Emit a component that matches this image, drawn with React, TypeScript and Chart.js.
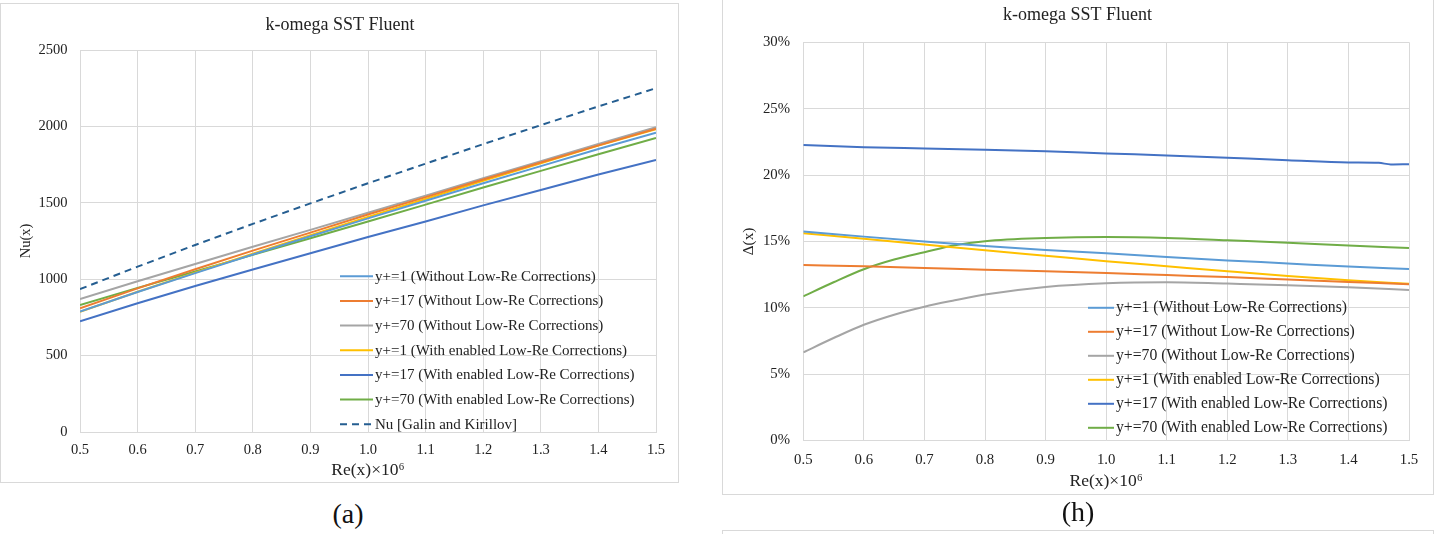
import React, { useEffect, useRef } from "react";
import { Chart, registerables } from "chart.js";

Chart.register(...registerables);

// ---------- data ----------
const RE = [0.5, 0.6, 0.7, 0.8, 0.9, 1.0, 1.1, 1.2, 1.3, 1.4, 1.5];
const RE_FINE = [0.5, 0.55, 0.6, 0.65, 0.7, 0.75, 0.8, 0.9, 1.0, 1.1, 1.2, 1.3, 1.4, 1.5];
const RE_KINK = [0.5, 0.6, 0.7, 0.8, 0.9, 1.0, 1.1, 1.2, 1.3, 1.4, 1.45, 1.47, 1.5];

const LABELS = [
  "y+=1 (Without Low-Re Corrections)",
  "y+=17 (Without Low-Re Corrections)",
  "y+=70 (Without Low-Re Corrections)",
  "y+=1 (With enabled Low-Re Corrections)",
  "y+=17 (With enabled Low-Re Corrections)",
  "y+=70 (With enabled Low-Re Corrections)",
  "Nu [Galin and Kirillov]",
];

// chart (a): Nu(x)
const NU_Y1_WO = [788, 916, 1040, 1162, 1281, 1398, 1513, 1628, 1740, 1852, 1959];
const NU_Y17_WO = [810, 940, 1065, 1187, 1305, 1423, 1537, 1652, 1764, 1876, 1985];
const NU_Y70_WO = [870, 987, 1100, 1212, 1323, 1435, 1547, 1661, 1773, 1885, 1995];
const NU_Y1_W = [786, 918, 1043, 1167, 1288, 1408, 1525, 1644, 1759, 1874, 1982];
const NU_Y17_W = [724, 843, 955, 1064, 1170, 1276, 1378, 1483, 1584, 1685, 1781];
const NU_Y70_W = [831, 943, 1050, 1159, 1268, 1378, 1488, 1600, 1709, 1818, 1924];
const NU_GALIN = [935, 1082, 1224, 1362, 1496, 1628, 1756, 1884, 2008, 2131, 2250];

// chart (h): Δ(x) in %
const D_Y1_WO = [15.74, 15.36, 15.0, 14.65, 14.36, 14.1, 13.82, 13.57, 13.34, 13.1, 12.93];
const D_Y17_WO = [13.22, 13.12, 13.0, 12.86, 12.75, 12.62, 12.46, 12.31, 12.13, 11.95, 11.77];
const D_Y70_WO = [6.64, 7.72, 8.72, 9.48, 10.08, 10.56, 11.0, 11.57, 11.85, 11.93, 11.82, 11.7, 11.54, 11.34];
const D_Y1_W = [15.62, 15.2, 14.77, 14.33, 13.92, 13.51, 13.13, 12.75, 12.39, 12.08, 11.8];
const D_Y17_W = [22.27, 22.1, 22.0, 21.9, 21.8, 21.63, 21.48, 21.3, 21.12, 20.95, 20.92, 20.8, 20.82];
const D_Y70_W = [10.86, 11.92, 12.9, 13.63, 14.18, 14.71, 15.02, 15.25, 15.33, 15.26, 15.08, 14.9, 14.69, 14.5];

const X_TICKS_STEP = 0.1;
const NU_MAX = 2500;
const NU_STEP = 500;
const D_MAX = 30;
const D_STEP = 5;

const COLORS = ["#5B9BD5", "#ED7D31", "#A5A5A5", "#FFC000", "#4472C4", "#70AD47", "#255E91"];

const FONT = "'Liberation Serif', 'Times New Roman', serif";
const TEXT = "#222222";
const GRID = "#d9d9d9";

const pts = (xs: number[], ys: number[]) => xs.map((x, i) => ({ x, y: ys[i] }));

// custom in-plot legend
const insideLegend = {
  id: "insideLegend",
  afterDraw(chart: any, _args: any, opts: any) {
    if (!opts || !opts.display) return;
    const { ctx, chartArea } = chart;
    ctx.save();
    ctx.font = `${opts.fontSize}px ${FONT}`;
    ctx.textBaseline = "middle";
    ctx.textAlign = "left";
    chart.data.datasets.forEach((ds: any, i: number) => {
      const y = chartArea.top + opts.dy + i * opts.step;
      const x0 = chartArea.left + opts.dx;
      ctx.strokeStyle = ds.borderColor;
      ctx.lineWidth = ds.borderWidth;
      ctx.setLineDash(ds.borderDash || []);
      ctx.beginPath();
      ctx.moveTo(x0, y);
      ctx.lineTo(x0 + opts.len, y);
      ctx.stroke();
      ctx.setLineDash([]);
      ctx.fillStyle = TEXT;
      ctx.fillText(ds.label, x0 + opts.len + opts.gap, y + 0.5);
    });
    ctx.restore();
  },
};

type Cfg = {
  datasets: any[];
  yMax: number;
  yStep: number;
  yFmt: (v: number) => string;
  yTitle: string;
  yTitleSize: number;
  yTitlePad: number;
  yWidth: number;
  yTickPad: number;
  xHeight: number;
  xTickPad: number;
  xTitlePad: number;
  padLeft: number;
  padRight: number;
  titlePadTop: number;
  titlePadBottom: number;
  tickSize: number;
  legend: any;
};

function LineChart({ width, height, cfg }: { width: number; height: number; cfg: Cfg }) {
  const ref = useRef<HTMLCanvasElement>(null);
  useEffect(() => {
    if (!ref.current) return;
    const chart = new Chart(ref.current, {
      type: "line",
      data: { datasets: cfg.datasets },
      options: {
        responsive: false,
        animation: false,
        devicePixelRatio: 1,
        layout: { padding: { left: cfg.padLeft, right: cfg.padRight, top: 0, bottom: 0 } },
        elements: { point: { radius: 0 } },
        plugins: {
          legend: { display: false },
          tooltip: { enabled: false },
          title: {
            display: true,
            text: "k-omega SST Fluent",
            color: TEXT,
            font: { family: FONT, size: 18, weight: "normal" },
            padding: { top: cfg.titlePadTop, bottom: cfg.titlePadBottom },
          },
          insideLegend: cfg.legend,
        } as any,
        scales: {
          x: {
            type: "linear",
            min: 0.5,
            max: 1.5,
            afterFit: (s: any) => {
              s.height = cfg.xHeight;
            },
            ticks: {
              stepSize: X_TICKS_STEP,
              color: TEXT,
              padding: cfg.xTickPad,
              maxRotation: 0,
              font: { family: FONT, size: cfg.tickSize },
              callback: (v: any) => Number(v).toFixed(1),
            },
            grid: { color: GRID, drawTicks: false, lineWidth: 1 },
            border: { color: GRID },
            title: {
              display: true,
              text: "Re(x)×10⁶",
              color: TEXT,
              font: { family: FONT, size: 17.5 },
              padding: { top: 0, bottom: cfg.xTitlePad },
            },
          },
          y: {
            min: 0,
            max: cfg.yMax,
            afterFit: (s: any) => {
              s.width = cfg.yWidth;
            },
            ticks: {
              stepSize: cfg.yStep,
              color: TEXT,
              padding: cfg.yTickPad,
              font: { family: FONT, size: cfg.tickSize },
              callback: (v: any) => cfg.yFmt(Number(v)),
            },
            grid: { color: GRID, drawTicks: false, lineWidth: 1 },
            border: { color: GRID },
            title: {
              display: true,
              text: cfg.yTitle,
              color: TEXT,
              font: { family: FONT, size: cfg.yTitleSize },
              padding: { top: cfg.yTitlePad, bottom: 0 },
            },
          },
        },
      },
      plugins: [insideLegend],
    });
    return () => chart.destroy();
  }, []);
  return <canvas ref={ref} width={width} height={height} style={{ width, height, display: "block" }} />;
}

const lineDs = (label: string, color: string, data: any[], extra: any = {}) => ({
  label,
  data,
  borderColor: color,
  backgroundColor: color,
  borderWidth: 2,
  pointRadius: 0,
  fill: false,
  ...extra,
});

export default function App() {
  const nuSets = [
    lineDs(LABELS[0], COLORS[0], pts(RE, NU_Y1_WO)),
    lineDs(LABELS[1], COLORS[1], pts(RE, NU_Y17_WO)),
    lineDs(LABELS[2], COLORS[2], pts(RE, NU_Y70_WO)),
    lineDs(LABELS[3], COLORS[3], pts(RE, NU_Y1_W)),
    lineDs(LABELS[4], COLORS[4], pts(RE, NU_Y17_W)),
    lineDs(LABELS[5], COLORS[5], pts(RE, NU_Y70_W)),
    lineDs(LABELS[6], COLORS[6], pts(RE, NU_GALIN), { borderDash: [7, 5] }),
  ];
  const smooth = { cubicInterpolationMode: "monotone" };
  const dSets = [
    lineDs(LABELS[0], COLORS[0], pts(RE, D_Y1_WO), smooth),
    lineDs(LABELS[1], COLORS[1], pts(RE, D_Y17_WO), smooth),
    lineDs(LABELS[2], COLORS[2], pts(RE_FINE, D_Y70_WO), smooth),
    lineDs(LABELS[3], COLORS[3], pts(RE, D_Y1_W), smooth),
    lineDs(LABELS[4], COLORS[4], pts(RE_KINK, D_Y17_W), smooth),
    lineDs(LABELS[5], COLORS[5], pts(RE_FINE, D_Y70_W), smooth),
  ];

  const cfgA: Cfg = {
    datasets: nuSets,
    yMax: NU_MAX,
    yStep: NU_STEP,
    yFmt: (v) => String(v),
    yTitle: "Nu(x)",
    yTitleSize: 14.5,
    yTitlePad: -6.5,
    yWidth: 56,
    yTickPad: 12.5,
    xHeight: 58,
    xTickPad: 9,
    xTitlePad: 9.5,
    padLeft: 24,
    padRight: 44,
    titlePadTop: 14,
    titlePadBottom: 14.4,
    tickSize: 14.5,
    legend: { display: true, dx: 260, dy: 226.3, step: 24.66, len: 33, gap: 2, fontSize: 15 },
  };
  const cfgH: Cfg = {
    datasets: dSets,
    yMax: D_MAX,
    yStep: D_STEP,
    yFmt: (v) => `${v}%`,
    yTitle: "Δ(x)",
    yTitleSize: 15.3,
    yTitlePad: -6.2,
    yWidth: 57.3,
    yTickPad: 13.3,
    xHeight: 59.5,
    xTickPad: 10.5,
    xTitlePad: 8.5,
    padLeft: 28,
    padRight: 29,
    titlePadTop: 4.5,
    titlePadBottom: 16.2,
    tickSize: 14.8,
    legend: { display: true, dx: 284.7, dy: 265.5, step: 24, len: 26, gap: 2, fontSize: 15.7 },
  };

  const box = (left: number, top: number, w: number, h: number): React.CSSProperties => ({
    position: "absolute",
    left,
    top,
    width: w,
    height: h,
    boxSizing: "border-box",
    border: "1px solid #d9d9d9",
    background: "#fff",
  });
  const caption = (cx: number, cy: number): React.CSSProperties => ({
    position: "absolute",
    left: cx,
    top: cy,
    transform: "translate(-50%, -50%)",
    fontFamily: FONT,
    fontSize: 28,
    color: "#111",
    lineHeight: 1,
    whiteSpace: "nowrap",
  });

  return (
    <div style={{ position: "absolute", left: 0, top: 0, width: 1438, height: 534, overflow: "hidden", background: "#fff" }}>
      <div style={box(0, 3, 679, 480)} />
      <div style={box(722, -1, 712, 496)} />
      <div style={box(722, 530, 712, 20)} />
      <div style={{ position: "absolute", left: 0, top: 0 }}>
        <LineChart width={700} height={490} cfg={cfgA} />
      </div>
      <div style={{ position: "absolute", left: 718, top: 0 }}>
        <LineChart width={720} height={500} cfg={cfgH} />
      </div>
      <div style={caption(348, 514)}>(a)</div>
      <div style={caption(1078, 512)}>(h)</div>
    </div>
  );
}
